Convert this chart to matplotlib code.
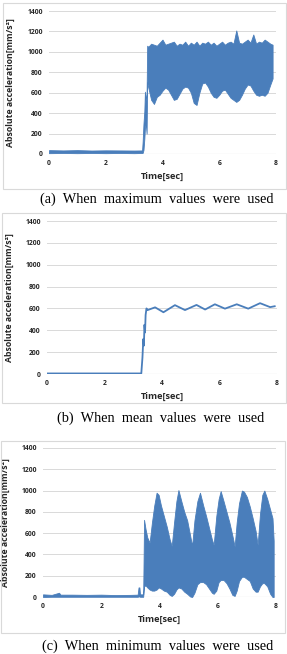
"""
plot.py - Three stacked Excel-style panels of absolute acceleration vs time.
"""

import matplotlib

matplotlib.use("Agg")
import matplotlib.pyplot as plt
from matplotlib.patches import Rectangle

plt.rcParams["font.family"] = ["Open Sans", "DejaVu Sans"]

W, H = 287, 654
BLUE = "#4a7ebb"
GRID = "#d9d9d9"

Y_TICKS = [0, 200, 400, 600, 800, 1000, 1200, 1400]
X_TICKS = [0, 2, 4, 6, 8]
Y_LABEL = "Absolute acceleration[mm/s²]"
X_LABEL = "Time[sec]"
CAPTIONS = [
    "(a)  When  maximum  values  were  used",
    "(b)  When  mean  values  were  used",
    "(c)  When  minimum  values  were  used",
]

# (a) maximum values: envelope of the dense signal (time, upper, lower)
t_max = [0.0, 0.5, 1.0, 1.5, 2.0, 2.5, 3.0, 3.28, 3.30, 3.33, 3.36, 3.38, 3.41, 3.44,
         3.46, 3.5, 3.6, 3.7, 3.8, 3.9, 4.0, 4.1, 4.2, 4.3, 4.4, 4.5, 4.6, 4.7, 4.8,
         4.9, 5.0, 5.1, 5.2, 5.3, 5.4, 5.5, 5.6, 5.7, 5.8, 5.9, 6.0, 6.1, 6.2, 6.3,
         6.4, 6.5, 6.6, 6.7, 6.8, 6.9, 7.0, 7.1, 7.2, 7.3, 7.4, 7.5, 7.6, 7.7, 7.8, 7.88]
upper_max = [38, 35, 38, 34, 36, 35, 34, 35, 120, 300, 420, 610, 520, 600,
             1060, 1050, 1080, 1070, 1060, 1090, 1120, 1070, 1080, 1090, 1100, 1060, 1080, 1070, 1100,
             1060, 1090, 1070, 1100, 1060, 1090, 1080, 1100, 1070, 1090, 1060, 1080, 1100, 1070, 1090,
             1100, 1080, 1210, 1090, 1080, 1100, 1120, 1090, 1170, 1080, 1100, 1090, 1120, 1100, 1080, 1070]
lower_max = [8, 10, 8, 10, 8, 10, 8, 10, 10, 40, 150, 250, 300, 200,
             700, 650, 530, 490, 560, 580, 620, 650, 630, 580, 530, 540, 590, 640, 660,
             650, 600, 500, 480, 600, 690, 700, 660, 600, 560, 550, 580, 620, 630, 590,
             550, 530, 510, 530, 580, 640, 680, 670, 620, 580, 570, 580, 570, 600, 680, 740]

# (b) mean values: single line
t_mean = [0.0, 1.0, 2.0, 3.0, 3.28, 3.32, 3.35, 3.37, 3.39, 3.41, 3.43, 3.46, 3.5,
          3.76, 4.05, 4.45, 4.8, 5.2, 5.5, 5.84, 6.19, 6.6, 7.0, 7.41, 7.76, 7.92]
acc_mean = [5, 5, 5, 5, 5, 150, 320, 260, 450, 380, 540, 600, 585,
            610, 565, 630, 585, 632, 590, 638, 598, 638, 598, 648, 612, 620]

# (c) minimum values: envelope of the dense signal (time, upper, lower)
t_min = [0.0, 0.3, 0.55, 0.6, 1.0, 1.5, 2.0, 2.5, 3.0, 3.25, 3.28, 3.31, 3.33, 3.44,
         3.47, 3.52, 3.58, 3.66, 3.74, 3.82, 3.9, 3.97, 4.05, 4.15, 4.25, 4.35, 4.42,
         4.5, 4.58, 4.65, 4.75, 4.85, 4.95, 5.05, 5.12, 5.2, 5.3, 5.39, 5.5, 5.6, 5.7,
         5.8, 5.86, 5.95, 6.03, 6.1, 6.2, 6.3, 6.4, 6.5, 6.58, 6.65, 6.73, 6.83, 6.9,
         7.0, 7.1, 7.2, 7.3, 7.37, 7.45, 7.53, 7.6, 7.7, 7.8, 7.88, 7.92]
upper_min = [25, 20, 40, 22, 22, 20, 22, 18, 20, 22, 90, 90, 25, 25,
             725, 640, 560, 510, 700, 860, 980, 960, 860, 760, 660, 540, 480,
             700, 900, 1005, 900, 800, 720, 580, 480, 720, 900, 980, 860, 760, 650,
             540, 490, 760, 920, 995, 900, 800, 700, 580, 475, 700, 880, 1000, 990,
             940, 850, 740, 620, 490, 780, 960, 1000, 920, 820, 740, 530]
lower_min = [0, 2, 2, 2, 2, 2, 2, 2, 2, 2, 5, 5, 2, 2,
             100, 110, 90, 70, 60, 60, 70, 90, 80, 60, 50, 20, 10,
             30, 70, 90, 80, 50, 30, 5, 0, 40, 120, 140, 140, 120, 80,
             40, 30, 60, 140, 160, 160, 130, 80, 20, 10, 60, 150, 190, 190,
             170, 150, 80, 50, 50, 100, 130, 130, 100, 30, 0, 0]

# panel geometry in pixels: axes (left, right, top, bottom), frame (left, right, top, bottom)
AXES_PX = [(49, 276, 11, 154), (47, 277, 221, 374), (43, 276, 448, 597)]
FRAME_PX = [(3, 286, 3, 189), (2, 286, 213, 403), (1, 285, 441, 633)]
CAPTION_Y = [199, 418, 646]
CAPTION_X = [157, 161, 158]


def px_rect(l, r, t, b):
    return [l / W, 1 - b / H, (r - l) / W, (b - t) / H]


def style_axes(ax, ylab_x):
    ax.set_xlim(0, 8)
    ax.set_ylim(0, 1400)
    ax.set_xticks(X_TICKS)
    ax.set_yticks(Y_TICKS)
    for s in ax.spines.values():
        s.set_visible(False)
    ax.grid(axis="y", color=GRID, lw=0.7)
    ax.set_axisbelow(True)
    ax.axhline(0, color="#bfbfbf", lw=0.8, zorder=0.5)
    ax.tick_params(length=0, labelsize=4.9, pad=4.5, labelcolor="#262626")
    for lab in ax.get_xticklabels() + ax.get_yticklabels():
        lab.set_fontweight("bold")
    ax.set_xlabel(X_LABEL, fontsize=6.7, fontweight="bold", color="#262626", labelpad=3)
    ax.set_ylabel(Y_LABEL, fontsize=6.3, fontweight="bold", color="#262626")
    ax.yaxis.set_label_coords(ylab_x, 0.5)


fig = plt.figure(figsize=(W / 100, H / 100), dpi=100)

for fl, fr, ft, fb in FRAME_PX:
    fig.patches.append(
        Rectangle((fl / W, 1 - fb / H), (fr - fl) / W, (fb - ft) / H, transform=fig.transFigure,
                  fill=False, edgecolor=GRID, lw=0.8)
    )

axes = [fig.add_axes(px_rect(*p)) for p in AXES_PX]

axes[0].fill_between(t_max, lower_max, upper_max, color=BLUE, lw=0.6, edgecolor=BLUE)
axes[1].plot(t_mean, acc_mean, color=BLUE, lw=1.3)
axes[2].fill_between(t_min, lower_min, upper_min, color=BLUE, lw=0.6, edgecolor=BLUE)

# y-label centre x (pixels) for each panel
YLAB_PX = [15, 14, 10]
for ax, p, yl in zip(axes, AXES_PX, YLAB_PX):
    style_axes(ax, (yl - p[0]) / (p[1] - p[0]))

for cap, cx, cy in zip(CAPTIONS, CAPTION_X, CAPTION_Y):
    fig.text(cx / W, 1 - cy / H, cap, ha="center", va="center", fontsize=10.3,
             family=["Liberation Serif", "DejaVu Serif"])

fig.savefig("out.png", dpi=100)
